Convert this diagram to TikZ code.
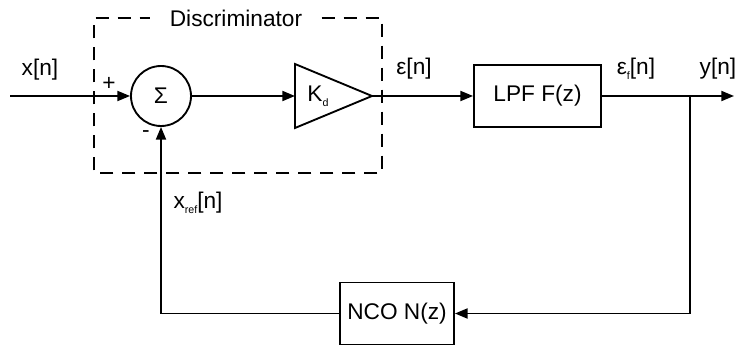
\documentclass[tikz,border=0pt]{standalone}
\usepackage{fontspec}
\setmainfont{Liberation Sans}
\usetikzlibrary{arrows.meta}
\newcommand{\lowsub}[1]{\raisebox{-0.45ex}{\fontsize{8}{8}\selectfont #1}}

\begin{document}
\begin{tikzpicture}[x=0.75pt, y=-0.75pt, font=\fontsize{17}{20}\selectfont, line width=1.4pt, blockbox/.style={draw, minimum height=46.5pt, inner sep=0pt}, sig/.style={-{Triangle[length=9.5pt, width=7.5pt]}}, dashbox/.style={dash pattern=on 10pt off 6.5pt, line width=1.1pt}]
\useasboundingbox (0,0) rectangle (735,345);
\node[draw, circle, minimum size=45pt, inner sep=0pt] (sum) at (161,96) {Σ};
\draw (295,64) -- (372,96) -- (295,128) -- cycle;
\coordinate (gin) at (295,96); \coordinate (gout) at (372,96);
\node (gain) at (318,96) {K\lowsub{d}};
\node[blockbox, minimum width=95.25pt] (lpf) at (537.5,96) {LPF F(z)};
\node[blockbox, minimum width=85.5pt] (nco) at (397,313.5) {NCO N(z)};
\coordinate (in) at (10,96); \coordinate (out) at (734,96); \coordinate (tap) at (690,96);
\draw[sig] (in) -- (sum);
\draw[sig] (sum) -- (gin);
\draw[sig] (gout) -- (lpf);
\draw[sig] (lpf) -- (out);
\draw[sig] (tap) |- (nco);
\draw[sig] (nco) -| (sum);
\node[inner xsep=14pt] (disc) at (236,18) {Discriminator};
\draw[dashbox] (disc.east) -- (382,18) -- (382,173) -- (94,173) -- (94,18) -- (disc.west);
\node (xin) at (40,70) {x[n]};
\node (plus) at (109,84) {+};
\node (minus) at (146,134) {-};
\node (err) at (414,69) {ε[n]};
\node (errf) at (636,69) {ε\lowsub{f}[n]};
\node (yout) at (718,69) {y[n]};
\node (xref) at (198,203) {x\lowsub{ref}[n]};
\end{tikzpicture}
\end{document}
